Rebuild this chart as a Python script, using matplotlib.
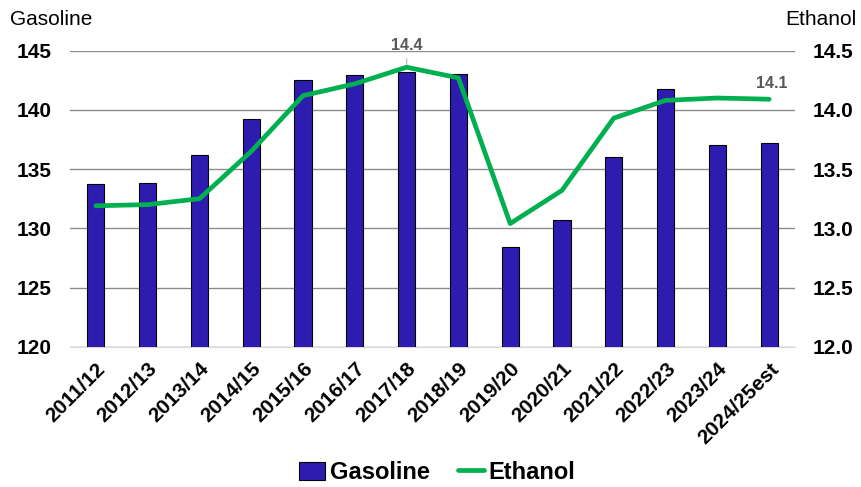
import numpy as np
import matplotlib.pyplot as plt

plt.rcParams['font.family'] = ['Liberation Sans', 'DejaVu Sans']

seasons = ["2011/12", "2012/13", "2013/14", "2014/15", "2015/16", "2016/17", "2017/18",
           "2018/19", "2019/20", "2020/21", "2021/22", "2022/23", "2023/24", "2024/25est"]
gasoline = [133.7, 133.8, 136.2, 139.2, 142.5, 142.95, 143.2,
            143.0, 128.4, 130.7, 136.05, 141.75, 137.0, 137.2]
ethanol = [13.19, 13.20, 13.25, 13.65, 14.12, 14.22, 14.36,
           14.27, 13.04, 13.32, 13.93, 14.08, 14.10, 14.09]

bar_color = "#2e1cb0"
line_color = "#00b050"

fig = plt.figure(figsize=(8.62, 4.87), dpi=100)
ax = fig.add_axes([0.0812, 0.288, 0.8411, 0.608])
ax2 = ax.twinx()

x = np.arange(len(seasons))
ax.set_zorder(1)
ax2.set_zorder(2)
ax.patch.set_visible(False)

ax.bar(x, gasoline, width=0.33, color=bar_color, edgecolor="black", linewidth=0.8,
       zorder=3, label="Gasoline")
ax.set_ylim(120, 145)
ax.set_yticks(np.arange(120, 146, 5))
ax.set_xlim(-0.5, len(seasons) - 0.5)
ax.grid(axis="y", color="#8c8c8c", linewidth=1)
ax.set_axisbelow(True)

line, = ax2.plot(x, ethanol, color=line_color, linewidth=3.4, solid_capstyle="round",
                 solid_joinstyle="round", label="Ethanol")
ax2.set_ylim(12.0, 14.5)
ax2.set_yticks(np.arange(12.0, 14.51, 0.5))
ax2.set_yticklabels([f"{v:.1f}" for v in np.arange(12.0, 14.51, 0.5)])

for a in (ax, ax2):
    for s in a.spines.values():
        s.set_visible(False)
    a.tick_params(length=0, labelsize=15)
    for t in a.get_yticklabels():
        t.set_fontweight("bold")
ax.spines["bottom"].set_visible(True)
ax.spines["bottom"].set_color("#d9d9d9")
ax.tick_params(axis="y", pad=13)
ax2.tick_params(axis="y", pad=13)

ax.set_xticks(x)
ax.set_xticklabels(seasons, rotation=45, ha="right", rotation_mode="anchor",
                   fontsize=15, fontweight="bold")
ax.tick_params(axis="x", pad=9)

# value labels on the peak and latest estimate
i_peak = int(np.argmax(ethanol))
ax2.annotate(f"{ethanol[i_peak]:.1f}", xy=(i_peak, ethanol[i_peak]), xytext=(0, 10),
             textcoords="offset points", ha="center", va="bottom", fontsize=11.5,
             fontweight="bold", color="#595959",
             arrowprops=dict(arrowstyle="-", color="#bfbfbf", lw=1, shrinkA=2, shrinkB=2))
ax2.annotate(f"{ethanol[-1]:.1f}", xy=(x[-1], ethanol[-1]), xytext=(2, 6),
             textcoords="offset points", ha="center", va="bottom", fontsize=11.5,
             fontweight="bold", color="#595959")

fig.text(0.012, 0.948, "Gasoline", fontsize=15, ha="left", va="baseline")
fig.text(0.994, 0.948, "Ethanol", fontsize=15, ha="right", va="baseline")

handles = [ax.containers[0], line]
fig.legend(handles, ["Gasoline", "Ethanol"], loc="center", bbox_to_anchor=(0.507, 0.03),
           ncol=2, frameon=False, prop=dict(size=17, weight="bold"),
           handlelength=1.1, handleheight=0.8, handletextpad=0.2, columnspacing=1.2,
           borderaxespad=0, borderpad=0)

fig.savefig("out.png", dpi=100)
